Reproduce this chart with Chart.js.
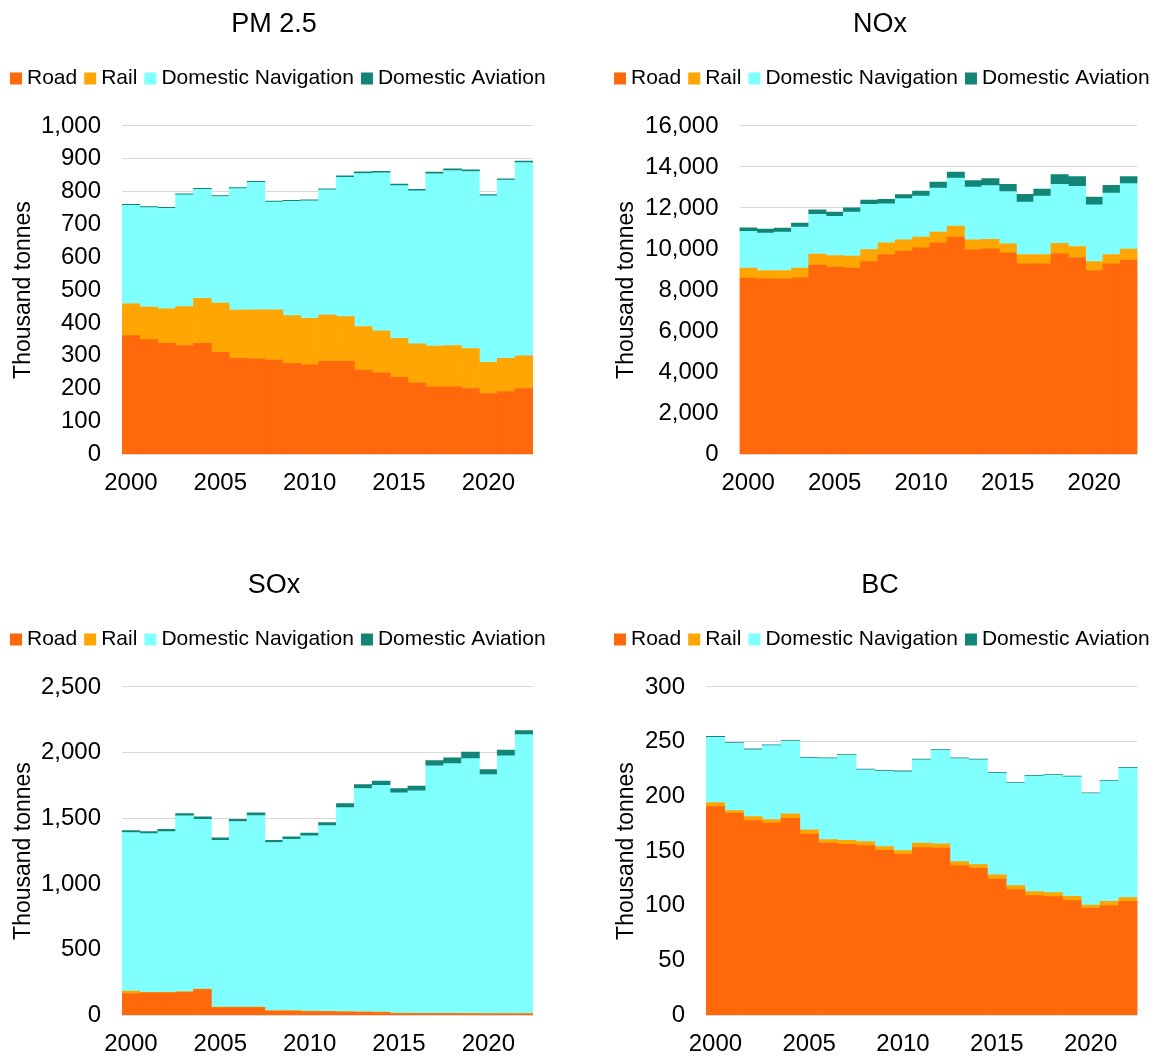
<!DOCTYPE html>
<html>
<head>
<meta charset="utf-8">
<title>Transport emissions by mode</title>
<script src="https://cdn.jsdelivr.net/npm/chart.js@4.4.1/dist/chart.umd.min.js"></script>
<style>
  html, body { margin: 0; padding: 0; background: #ffffff; width: 1156px; height: 1057px; overflow: hidden; }
  canvas { position: absolute; }
</style>
</head>
<body>
<canvas id="pm25" width="556" height="515" style="left:0px;top:0px"></canvas>
<canvas id="nox" width="556" height="515" style="left:600px;top:0px"></canvas>
<canvas id="sox" width="556" height="515" style="left:0px;top:561px"></canvas>
<canvas id="bc" width="556" height="515" style="left:600px;top:561px"></canvas>
<script>
// Years on the category axis and the years that get a printed label
const years = ['2000','2001','2002','2003','2004','2005','2006','2007','2008','2009','2010','2011',
               '2012','2013','2014','2015','2016','2017','2018','2019','2020','2021','2022'];
const labelledYears = ['2000','2005','2010','2015','2020'];

const seriesNames = ['Road', 'Rail', 'Domestic Navigation', 'Domestic Aviation'];
const seriesColors = ['#FF690B', '#FFA602', '#80FFFF', '#138577'];

// PM 2.5, thousand tonnes
const pm25Road = [361,349,338,331,338,310,292,290,287,277,272,283,283,256,248,234,217,205,205,200,185,191,200];
const pm25Rail = [97,99,105,119,137,150,147,150,153,145,142,141,136,133,128,119,119,124,126,122,95,101,100];
const pm25Nav  = [300,303,306,340,332,325,370,388,328,348,358,381,424,466,481,465,466,525,533,539,507,543,588];
const pm25Air  = [3,3,3,3,3,3,3,3,3,3,3,3,5,5,5,5,5,5,5,5,4,4,5];

// NOx, thousand tonnes
const noxRoad = [8578,8545,8529,8594,9213,9115,9066,9392,9734,9896,10059,10303,10580,9962,10010,9815,9278,9278,9766,9571,8952,9278,9457];
const noxRail = [488,407,423,472,537,570,586,586,569,554,521,521,537,488,456,439,456,456,505,553,440,456,537];
const noxNav  = [1791,1823,1872,2002,1937,1904,2149,2197,1905,2002,2002,2149,2344,2572,2621,2540,2555,2848,2881,2930,2767,2995,3190];
const noxAir  = [179,196,196,196,228,212,211,211,211,195,244,293,293,309,342,358,375,342,472,472,374,374,342];

// SOx, thousand tonnes
const soxRoad = [165,170,170,175,195,58,58,58,32,32,28,27,24,22,20,13,12,12,12,11,10,10,10];
const soxRail = [18,5,4,4,4,3,3,3,3,3,3,3,3,3,3,3,3,3,3,3,3,3,3];
const soxNav  = [1208,1208,1224,1339,1293,1271,1414,1459,1280,1305,1334,1414,1554,1701,1728,1677,1693,1883,1901,1940,1819,1962,2124];
const soxAir  = [15,15,18,18,18,18,17,21,17,18,21,23,31,30,31,33,36,41,43,49,39,43,31];

// Black carbon, thousand tonnes
const bcRoad = [190.7,184.6,177.9,175.5,180.0,165.4,157.2,156.2,155.0,150.7,147.1,153.2,152.6,136.7,134.3,124.5,114.7,109.2,108.3,104.7,97.7,100.1,104.0];
const bcRail = [3.7,2.4,3.7,3.3,4.0,4.0,3.3,3.7,3.7,3.4,3.3,4.0,4.0,3.7,3.3,3.7,3.7,3.7,3.7,3.9,3.0,3.9,3.4];
const bcNav  = [59.5,61.4,61.0,67.5,66.2,65.6,73.9,77.5,65.6,69.0,72.1,76.2,85.4,94.0,95.8,93.0,93.4,105.6,107.1,109.3,101.9,109.6,118.4];
const bcAir  = [0.9,0.8,0.8,0.8,0.8,0.7,0.7,0.7,0.7,0.7,0.7,0.7,0.7,0.7,0.7,0.7,0.7,0.7,0.7,0.7,0.6,0.7,0.7];

Chart.defaults.font.family = "'Liberation Sans', Arial, Helvetica, sans-serif";
Chart.defaults.color = '#000000';

// Keeps the legend on a single row and leaves space between it and the plot area
function legendRow(gapBelow) {
  return {
    id: 'legendRow',
    beforeInit(chart) {
      const legend = chart.legend;
      const fit = legend.fit;
      const draw = legend.draw;
      legend.fit = function () {
        this.maxWidth = Math.max(this.maxWidth, 620);
        fit.call(this);
        this.height += gapBelow;
      };
      legend.draw = function () {
        const right = this.right;
        this.right = right + 60;
        draw.call(this);
        this.right = right;
      };
    }
  };
}

// One panel: stacked full-width bars give the stepped stacked-area look
function makePanel(canvasId, title, series, yMax, yStep, box) {
  const datasets = series.map((values, i) => ({
    label: seriesNames[i],
    data: values,
    backgroundColor: seriesColors[i],
    borderWidth: 0,
    categoryPercentage: 1.0,
    barPercentage: 1.0,
    yAxisID: 'y'
  }));

  return new Chart(document.getElementById(canvasId), {
    type: 'bar',
    data: { labels: years, datasets },
    plugins: [legendRow(27)],
    options: {
      responsive: false,
      animation: false,
      events: [],
      locale: 'en-US',
      layout: { padding: { left: box.padLeft, right: box.padRight, top: 0, bottom: 2 } },
      plugins: {
        title: {
          display: true,
          text: title,
          font: { size: 27, weight: 'normal' },
          color: '#000000',
          padding: { top: 8, bottom: 15 }
        },
        legend: {
          display: true,
          position: 'top',
          align: 'start',
          labels: {
            usePointStyle: true,
            pointStyle: 'rect',
            boxWidth: 1,
            boxHeight: 12,
            padding: 12.5,
            font: { size: 21 },
            color: '#000000'
          }
        },
        tooltip: { enabled: false }
      },
      scales: {
        x: {
          stacked: true,
          grid: { display: false, drawTicks: false },
          border: { display: false },
          ticks: {
            autoSkip: false,
            maxRotation: 0,
            padding: 15,
            font: { size: 24 },
            color: '#000000',
            callback: function (value, index) {
              const y = years[index];
              return labelledYears.includes(y) ? y : '';
            }
          }
        },
        y: {
          stacked: true,
          position: 'left',
          min: 0,
          max: yMax,
          grid: { color: '#D9D9D9', lineWidth: 1, drawTicks: false },
          border: { display: false },
          ticks: {
            stepSize: yStep,
            padding: 21,
            font: { size: 24 },
            color: '#000000'
          },
          title: {
            display: true,
            text: 'Thousand tonnes',
            font: { size: 23 },
            color: '#000000',
            padding: { top: box.titleShift, bottom: 0 }
          },
          afterFit: function (scale) { scale.width = box.axisWidth; }
        },
        // empty right-hand strip between the plot and the panel edge
        gap: {
          position: 'right',
          display: true,
          grid: { display: false, drawTicks: false },
          border: { display: false },
          ticks: { display: false },
          afterFit: function (scale) { scale.width = box.rightGap; }
        }
      }
    }
  });
}

const leftBox = { padLeft: 3, padRight: 11, axisWidth: 119, rightGap: 12, titleShift: 6.7 };
const noxBox  = { padLeft: 7, padRight: 3, axisWidth: 132.5, rightGap: 15.5, titleShift: 5.7 };
const bcBox   = { padLeft: 7, padRight: 3, axisWidth: 99, rightGap: 15.5, titleShift: 5.7 };

makePanel('pm25', 'PM 2.5', [pm25Road, pm25Rail, pm25Nav, pm25Air], 1000, 100, leftBox);
makePanel('nox', 'NOx', [noxRoad, noxRail, noxNav, noxAir], 16000, 2000, noxBox);
makePanel('sox', 'SOx', [soxRoad, soxRail, soxNav, soxAir], 2500, 500, leftBox);
makePanel('bc', 'BC', [bcRoad, bcRail, bcNav, bcAir], 300, 50, bcBox);
</script>
</body>
</html>
